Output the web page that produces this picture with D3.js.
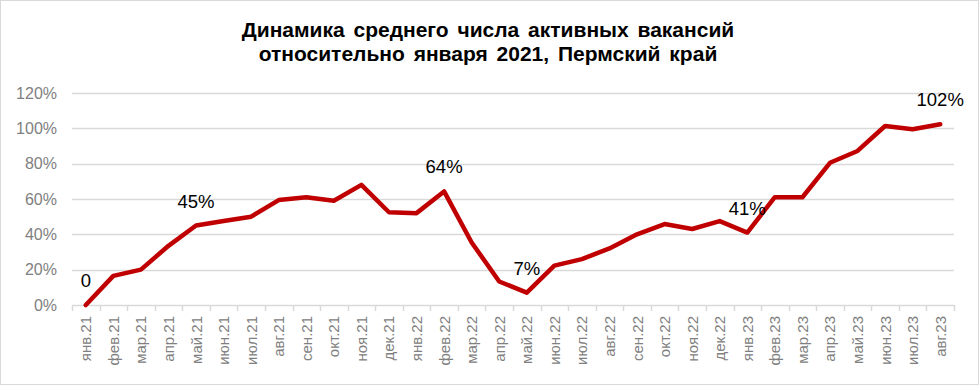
<!DOCTYPE html>
<html>
<head>
<meta charset="utf-8">
<script src="https://cdn.jsdelivr.net/npm/d3@7"></script>
<style>
	body { margin: 0; background: #fff; }
	svg { display: block; font-family: "Liberation Sans", Arial, sans-serif; }
</style>
</head>
<body>
<div id="chart"></div>
<script>
const months = [
	"янв.21", "фев.21", "мар.21", "апр.21", "май.21", "июн.21", "июл.21", "авг.21",
	"сен.21", "окт.21", "ноя.21", "дек.21", "янв.22", "фев.22", "мар.22", "апр.22",
	"май.22", "июн.22", "июл.22", "авг.22", "сен.22", "окт.22", "ноя.22", "дек.22",
	"янв.23", "фев.23", "мар.23", "апр.23", "май.23", "июн.23", "июл.23", "авг.23"
];
const values = [
	0, 16.5, 20, 33.5, 45, 47.6, 50, 59.4,
	61, 59, 68, 52.5, 52, 64.3, 35.4, 13.3,
	7, 22.3, 26, 32, 40, 45.8, 43, 47.5,
	41, 61, 61, 80.5, 87.2, 101.3, 99.5, 102.3
];
// labels shown above some points
const labelled = {"янв.21": "0", "май.21": "45%", "фев.22": "64%", "май.22": "7%", "янв.23": "41%", "авг.23": "102%"};
const yTicks = [0, 20, 40, 60, 80, 100, 120];
const titleLines = ["Динамика среднего числа активных вакансий", "относительно января 2021, Пермский край"];

const width = 979, height = 385;
const margin = {left: 72, right: 25, top: 93, bottom: 80};
const GRID = "#d9d9d9";
const LINE = "#c00000";

const svg = d3.select("#chart").append("svg")
	.attr("width", width)
	.attr("height", height);

// outer frame
svg.append("rect")
	.attr("x", 0.5).attr("y", 0.5)
	.attr("width", width - 1).attr("height", height - 1)
	.attr("fill", "#fff")
	.attr("stroke", GRID);

svg.append("text")
	.attr("text-anchor", "middle")
	.style("font-weight", "bold")
	.style("font-size", "21px")
	.style("word-spacing", "3px")
	.attr("fill", "#000")
	.selectAll("tspan")
	.data(titleLines)
	.join("tspan")
	.attr("x", 488)
	.attr("y", (d, i) => 37 + i * 24)
	.text(d => d);

const x = d3.scaleBand()
	.domain(months)
	.range([margin.left, width - margin.right]);

const y = d3.scaleLinear()
	.domain([0, 120])
	.range([height - margin.bottom, margin.top]);

// grid
svg.append("g")
	.attr("class", "grid")
	.selectAll("line")
	.data(yTicks.filter(d => d > 0))
	.join("line")
	.attr("x1", margin.left)
	.attr("x2", width - margin.right)
	.attr("y1", d => Math.round(y(d)) + 0.5)
	.attr("y2", d => Math.round(y(d)) + 0.5)
	.attr("stroke", GRID)
	.attr("stroke-width", 1.5);

// y axis labels
const yAxis = d3.axisLeft(y)
	.tickValues(yTicks)
	.tickFormat(d => d + "%")
	.tickSize(0)
	.tickPadding(15);

svg.append("g")
	.attr("class", "y-axis")
	.attr("transform", `translate(${margin.left},0)`)
	.call(yAxis)
	.call(g => g.select(".domain").remove())
	.call(g => g.selectAll("text")
		.attr("fill", "#808080")
		.style("font-size", "16px")
		.style("font-family", "Liberation Sans, Arial, sans-serif"));

// x axis
const x0 = y(0);
const xAxis = svg.append("g")
	.attr("class", "x-axis");

xAxis.append("line")
	.attr("x1", margin.left).attr("x2", width - margin.right)
	.attr("y1", Math.round(x0) + 0.5).attr("y2", Math.round(x0) + 0.5)
	.attr("stroke", GRID)
	.attr("stroke-width", 1.5);

const tickPos = months.map(m => x(m)).concat([width - margin.right]);
xAxis.selectAll(".tick-line")
	.data(tickPos)
	.join("line")
	.attr("class", "tick-line")
	.attr("x1", d => Math.round(d) + 0.5).attr("x2", d => Math.round(d) + 0.5)
	.attr("y1", x0).attr("y2", x0 + 6)
	.attr("stroke", GRID)
	.attr("stroke-width", 1.5);

xAxis.selectAll(".tick-label")
	.data(months)
	.join("text")
	.attr("class", "tick-label")
	.attr("transform", d => `translate(${x(d) + x.bandwidth() / 2 + 5.5},${x0 + 11}) rotate(-90)`)
	.attr("text-anchor", "end")
	.attr("fill", "#808080")
	.style("font-size", "15px")
	.text(d => d);

// line
const line = d3.line()
	.x((d, i) => x(months[i]) + x.bandwidth() / 2)
	.y(d => y(d));

svg.append("path")
	.datum(values)
	.attr("fill", "none")
	.attr("stroke", LINE)
	.attr("stroke-width", 4.5)
	.attr("stroke-linejoin", "round")
	.attr("stroke-linecap", "round")
	.attr("d", line);

// data labels
svg.append("g")
	.attr("class", "labels")
	.selectAll("text")
	.data(months.map((m, i) => ({m, v: values[i]})).filter(d => labelled[d.m]))
	.join("text")
	.attr("x", d => x(d.m) + x.bandwidth() / 2)
	.attr("y", d => y(d.v) - 18)
	.attr("text-anchor", "middle")
	.attr("fill", "#000")
	.style("font-size", "18.5px")
	.text(d => labelled[d.m]);
</script>
</body>
</html>
